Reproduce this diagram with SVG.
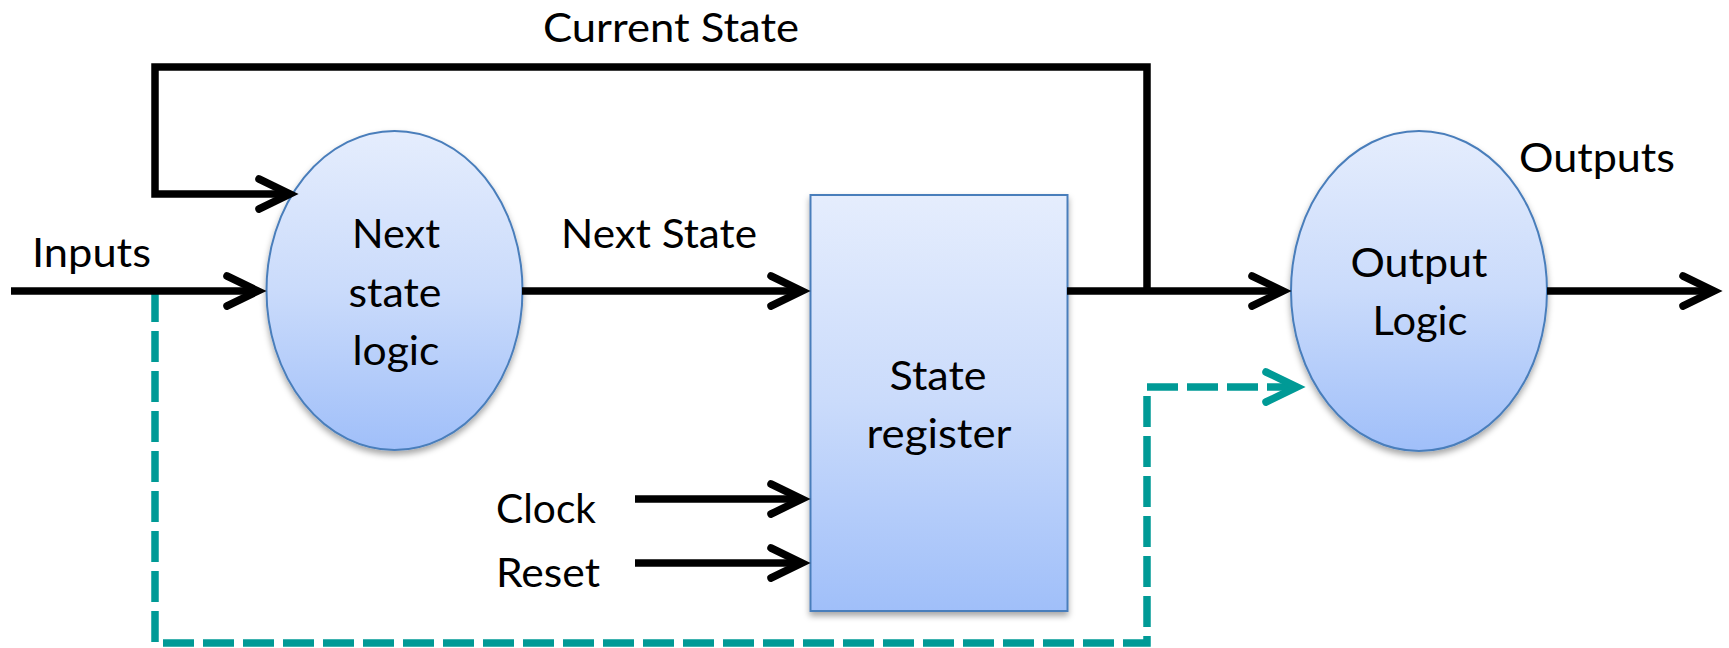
<svg xmlns="http://www.w3.org/2000/svg" width="1729" height="648" viewBox="0 0 1729 648">
  <defs>
    <linearGradient id="blueFill" x1="0" y1="0" x2="0" y2="1">
      <stop offset="0" stop-color="#E5EDFD"/>
      <stop offset="0.5" stop-color="#CADBFB"/>
      <stop offset="1" stop-color="#A0BFF9"/>
    </linearGradient>
    <filter id="shadow" x="-20%" y="-20%" width="140%" height="140%">
      <feDropShadow dx="0" dy="4" stdDeviation="3" flood-color="#000" flood-opacity="0.35"/>
    </filter>
    <marker id="arrowBlack" markerUnits="userSpaceOnUse" refX="0" refY="0" orient="auto" overflow="visible">
      <path d="M-31,-15 L0,0 L-31,15" fill="none" stroke="#000" stroke-width="7.5" stroke-linecap="round" stroke-linejoin="miter"/>
    </marker>
    <marker id="arrowTeal" markerUnits="userSpaceOnUse" refX="0" refY="0" orient="auto" overflow="visible">
      <path d="M-31,-15 L0,0 L-31,15" fill="none" stroke="#009A96" stroke-width="7.5" stroke-linecap="round" stroke-linejoin="miter" stroke-dasharray="none"/>
    </marker>
  </defs>
  <style>
    .node { fill: url(#blueFill); stroke: #4A7EBB; stroke-width: 2; filter: url(#shadow); }
    .wire { fill: none; stroke: #000; stroke-width: 7.5; stroke-linejoin: miter; stroke-linecap: butt; }
    .arrow { marker-end: url(#arrowBlack); }
    .bypass { fill: none; stroke: #009A96; stroke-width: 7.5; stroke-dasharray: 31 9; stroke-linejoin: miter; marker-end: url(#arrowTeal); }
    text { font-family: Lato, "Open Sans", "Liberation Sans", sans-serif; font-size: 41.5px; fill: #000; }
    .c { text-anchor: middle; }
  </style>

  <!-- nodes -->
  <g id="next-state-logic">
    <ellipse class="node" cx="394.5" cy="290.5" rx="128" ry="159.5"/>
    <text class="c" x="396" y="248" textLength="88" lengthAdjust="spacingAndGlyphs">Next</text>
    <text class="c" x="395" y="307" textLength="93" lengthAdjust="spacingAndGlyphs">state</text>
    <text class="c" x="396" y="365" textLength="87" lengthAdjust="spacingAndGlyphs">logic</text>
  </g>

  <g id="state-register">
    <rect class="node" x="810.5" y="195" width="257" height="416"/>
    <text class="c" x="938" y="390" textLength="97" lengthAdjust="spacingAndGlyphs">State</text>
    <text class="c" x="939" y="448" textLength="145" lengthAdjust="spacingAndGlyphs">register</text>
  </g>

  <g id="output-logic">
    <ellipse class="node" cx="1419" cy="291" rx="128" ry="160"/>
    <text class="c" x="1419" y="277" textLength="137" lengthAdjust="spacingAndGlyphs">Output</text>
    <text class="c" x="1420" y="335" textLength="95" lengthAdjust="spacingAndGlyphs">Logic</text>
  </g>

  <!-- connectors -->
  <g id="connectors">
    <!-- dashed bypass from inputs straight to the output logic -->
    <path class="bypass" d="M155,291 L155,643 L1147,643 L1147,387 L1297,387"/>
    <!-- inputs -->
    <path class="wire arrow" d="M11,291 L258,291"/>
    <!-- next state into the register -->
    <path class="wire arrow" d="M522,291 L802,291"/>
    <!-- register output to output logic -->
    <path class="wire arrow" d="M1067,291 L1283,291"/>
    <!-- current state feedback loop -->
    <path class="wire arrow" d="M1147,291 L1147,67 L155,67 L155,194 L290,194"/>
    <!-- outputs -->
    <path class="wire arrow" d="M1547,291 L1714,291"/>
    <!-- clock and reset -->
    <path class="wire arrow" d="M635,499 L802,499"/>
    <path class="wire arrow" d="M635,563 L802,563"/>
  </g>

  <!-- labels -->
  <g id="labels">
    <text x="543" y="42" textLength="256" lengthAdjust="spacingAndGlyphs">Current State</text>
    <text x="32" y="267" textLength="119" lengthAdjust="spacingAndGlyphs">Inputs</text>
    <text x="561" y="248" textLength="196" lengthAdjust="spacingAndGlyphs">Next State</text>
    <text x="1519" y="172" textLength="156" lengthAdjust="spacingAndGlyphs">Outputs</text>
    <text x="496" y="523" textLength="100" lengthAdjust="spacingAndGlyphs">Clock</text>
    <text x="496" y="587" textLength="104" lengthAdjust="spacingAndGlyphs">Reset</text>
  </g>
</svg>
